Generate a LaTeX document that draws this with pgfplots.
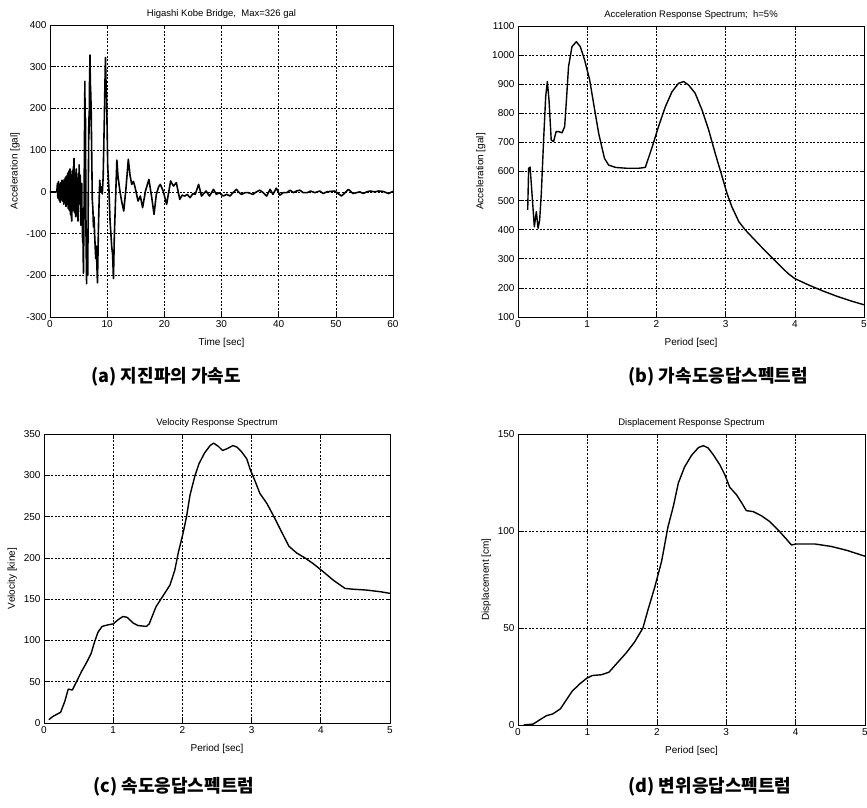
\documentclass[border=0pt]{standalone}
\usepackage{pgfplots}
\pgfplotsset{compat=1.18}
\usepackage{fontspec}
\setmainfont{Liberation Sans}
\newfontfamily\kr{Noto Sans CJK KR}
\pgfplotsset{
  mystyle/.style={
    scale only axis,
    axis line style={line width=0.8pt},
    grid=major,
    major grid style={dash pattern=on 2pt off 1.6pt, line width=0.6pt, black},
    tick align=inside,
    tick style={black, line width=0.6pt},
    major tick length=4pt,
    title style={font=\fontsize{9.5}{11}\selectfont, yshift=-3pt},
    label style={font=\fontsize{10}{12}\selectfont},
    xlabel style={yshift=-4pt},
    ticklabel style={font=\fontsize{10}{12}\selectfont},
    /pgf/number format/assume math mode=true,
    /pgf/number format/1000 sep={},
    scaled ticks=false,
  },
  curve/.style={black, no markers, line width=1.4pt, line join=round},
}
\begin{document}
\begin{tikzpicture}
\useasboundingbox (0,0) rectangle (867pt,807pt);
% (a)
\begin{axis}[mystyle, at={(50pt,490pt)}, width=343pt, height=292pt,
  xmin=0, xmax=60, ymin=-300, ymax=400,
  xtick={0,10,...,60}, ytick={-300,-200,...,400},
  title={Higashi Kobe Bridge,\ \ Max=326 gal},
  xlabel={Time [sec]}, ylabel={Acceleration [gal]}]
\addplot[curve, line width=1.6pt] coordinates {
(0,0)(1.2,0)(1.25,12)(1.3,20)(1.35,-10)(1.4,-15)(1.45,18)(1.5,25)(1.55,-12)(1.6,-20)
(1.65,10)(1.7,18)(1.75,-14)(1.8,-25)(1.85,15)(1.9,22)(1.95,-8)(2.0,-18)
(2.05,20)(2.1,28)(2.15,-15)(2.2,-22)(2.25,18)(2.3,25)(2.35,-20)(2.4,-30)(2.45,22)(2.5,30)
(2.55,-15)(2.6,-25)(2.65,28)(2.7,35)(2.75,-25)(2.8,-35)(2.85,30)(2.9,38)(2.95,-20)(3.0,-30)
(3.05,35)(3.1,45)(3.15,-28)(3.2,-40)(3.25,40)(3.3,50)(3.35,-35)(3.4,-45)(3.45,45)(3.5,55)
(3.55,-40)(3.6,-55)(3.65,30)(3.7,40)(3.75,-60)(3.8,-70)(3.85,40)(3.9,50)(3.95,-35)(4.0,-45)
(4.05,50)(4.1,60)(4.15,-20)(4.2,80)(4.25,-40)(4.3,-50)(4.35,30)(4.4,40)(4.45,-50)(4.5,-60)
(4.55,45)(4.6,55)(4.65,-30)(4.7,-40)(4.75,25)(4.8,30)(4.85,-55)(4.9,-70)(4.95,35)(5.0,45)
(5.05,-20)(5.1,65)(5.15,-25)(5.2,-30)(5.25,30)(5.3,40)(5.35,-60)(5.4,-80)(5.45,10)(5.5,-20)
(5.55,20)(5.6,-60)(5.65,-40)(5.7,-120)(5.75,-90)(5.85,-195)(5.95,-50)
(6.1,265)(6.15,120)(6.2,180)(6.3,-100)(6.4,-220)(6.45,-150)(6.5,-170)(6.6,-200)(6.7,0)(6.8,180)(6.85,140)(6.9,250)
(7.0,328)(7.05,260)(7.1,250)(7.2,200)(7.3,90)(7.4,-20)(7.5,-40)(7.6,-84)(7.7,-60)(7.8,-100)(8.0,-160)(8.1,-130)(8.3,-218)
(8.5,-70)(8.6,-20)(8.7,28)(8.85,0)(9.0,12)(9.15,-5)(9.3,36)(9.5,172)(9.6,250)(9.7,322)(9.8,260)(9.9,228)(10.1,60)(10.3,10)(10.5,-68)
(10.8,-132)(10.95,-150)(11.1,-208)(11.25,-108)(11.5,-4)(11.7,76)(11.9,36)(12.2,5)(12.5,-20)(12.9,-46)
(13.3,10)(13.7,78)(14.0,40)(14.3,18)(14.6,25)(14.9,10)(15.4,-22)(15.8,-10)(16.2,-38)(16.7,2)(17.3,30)
(17.8,-14)(18.2,-54)(18.6,-6)(19.0,12)(19.3,18)(19.8,2)(20.4,-30)(21.1,26)(21.6,14)
(22.1,22)(22.7,-18)(23.1,-8)(23.6,-10)(24.0,-6)(24.5,-14)(25.0,-4)(25.4,-6)(26.0,18)
(26.5,-10)(26.9,-4)(27.3,2)(27.9,-10)(28.6,6)(29.1,-6)(29.6,-2)(30.3,-10)(30.9,-6)
(31.5,-10)(32.0,-2)(32.6,6)(33.1,-2)(33.5,-6)(34.1,-2)(34.7,-2)(35.5,-6)(36.1,0)
(36.7,4)(37.3,-2)(37.9,-10)(38.5,6)(39.0,-6)(39.6,9)(40.2,-8)(40.8,-2)(41.4,-2)
(42.0,4)(42.6,-2)(43.1,2)(43.7,4)(44.3,-2)(45.0,-2)(45.6,2)(46.3,-2)(47.2,2)(47.8,-4)
(48.4,0)(49.0,1)(49.8,2)(50.4,-4)(51.0,-10)(51.6,-2)(52.2,6)(53.0,-4)(53.6,-2)
(54.2,0)(54.8,-4)(55.4,0)(56.0,2)(56.8,0)(57.5,2)(58.3,1)(59.2,-4)(60,1)
};
\end{axis}
% (b)
\begin{axis}[mystyle, at={(518pt,490pt)}, width=346pt, height=291pt,
  xmin=0, xmax=5, ymin=100, ymax=1100,
  xtick={0,1,...,5}, ytick={100,200,...,1100},
  title={Acceleration Response Spectrum;\ \ h=5\%},
  xlabel={Period [sec]}, ylabel={Acceleration [gal]}]
\addplot[curve] coordinates {
(0.14,468)(0.154,611)(0.175,615)(0.2,531)(0.236,410)(0.265,462)(0.29,405)(0.313,433)
(0.337,525)(0.37,708)(0.40,857)(0.424,909)(0.448,846)(0.48,708)(0.515,703)(0.55,737)
(0.587,737)(0.636,733)(0.674,754)(0.70,846)(0.73,960)(0.78,1029)(0.843,1046)(0.90,1029)
(0.963,983)(1.036,914)(1.10,823)(1.166,731)(1.21,685)(1.25,645)(1.31,622)(1.41,614)
(1.575,611)(1.74,611)(1.84,614)(1.94,685)(2.03,754)(2.13,823)(2.225,874)(2.32,903)
(2.394,909)(2.466,897)(2.56,869)(2.66,811)(2.755,743)(2.85,662)(2.95,582)(3.02,525)
(3.09,479)(3.19,428)(3.285,399)(3.5,345)(3.75,285)(3.9,250)(4.0,232)(4.2,210)
(4.4,190)(4.6,172)(4.8,156)(5.0,142)
};
\end{axis}
% (c)
\begin{axis}[mystyle, at={(44pt,84pt)}, width=346pt, height=289pt,
  xmin=0, xmax=5, ymin=0, ymax=350,
  xtick={0,1,...,5}, ytick={0,50,...,350},
  title={Velocity Response Spectrum},
  xlabel={Period [sec]}, ylabel={Velocity [kine]}]
\addplot[curve] coordinates {
(0.07,4)(0.13,8)(0.24,13)(0.30,26)(0.35,41)(0.41,40)(0.47,50)(0.54,62)(0.62,74)
(0.68,84)(0.73,98)(0.78,110)(0.84,117)(0.93,119)(1.0,120)(1.07,125)(1.14,129)(1.2,128)
(1.29,121)(1.36,118)(1.48,117)(1.52,120)(1.62,141)(1.72,154)(1.82,167)(1.89,185)
(1.94,206)(2.01,230)(2.06,250)(2.11,276)(2.18,299)(2.24,314)(2.32,327)(2.40,336)
(2.45,339)(2.52,335)(2.58,330)(2.64,332)(2.73,336)(2.79,334)(2.85,329)(2.93,320)
(2.98,307)(3.05,293)(3.12,278)(3.22,266)(3.31,252)(3.43,232)(3.54,214)(3.65,206)
(3.77,200)(3.89,193)(4.01,185)(4.18,173)(4.35,163)(4.47,162)(4.66,161)(4.86,159)(5.0,157)
};
\end{axis}
% (d)
\begin{axis}[mystyle, at={(518pt,82pt)}, width=347pt, height=291pt,
  xmin=0, xmax=5, ymin=0, ymax=150,
  xtick={0,1,...,5}, ytick={0,50,100,150},
  title={Displacement Response Spectrum},
  xlabel={Period [sec]}, ylabel={Displacement [cm]}]
\addplot[curve] coordinates {
(0.08,0)(0.22,0.5)(0.31,2.6)(0.41,4.8)(0.50,5.7)(0.61,8.3)(0.69,12.6)(0.78,17.4)
(0.89,21.2)(0.99,24.1)(1.07,25.5)(1.20,25.9)(1.31,27.2)(1.42,31.6)(1.56,37.2)
(1.68,42.8)(1.80,50)(1.87,59)(1.97,71)(2.07,84.5)(2.16,102)(2.24,113)(2.31,124.7)
(2.40,133)(2.50,139)(2.60,143)(2.67,144)(2.74,142.8)(2.82,139)(2.91,134)(2.98,129)
(3.05,122.6)(3.15,118.6)(3.22,114.7)(3.29,110.5)(3.39,110)(3.51,107.8)(3.63,104.8)
(3.75,100.5)(3.87,95.7)(3.94,92.8)(4.01,93.3)(4.28,93.3)(4.52,92)(4.74,90)(5.0,87)
};
\end{axis}
\node[anchor=west, font=\kr\bfseries\fontsize{18}{20}\selectfont] at (88pt,430pt) {(a) 지진파의 가속도};
\node[anchor=west, font=\kr\bfseries\fontsize{18}{20}\selectfont] at (625pt,430pt) {(b) 가속도응답스펙트럼};
\node[anchor=west, font=\kr\bfseries\fontsize{18}{20}\selectfont] at (90pt,20pt) {(c) 속도응답스펙트럼};
\node[anchor=west, font=\kr\bfseries\fontsize{18}{20}\selectfont] at (625pt,20pt) {(d) 변위응답스펙트럼};
\end{tikzpicture}
\end{document}
